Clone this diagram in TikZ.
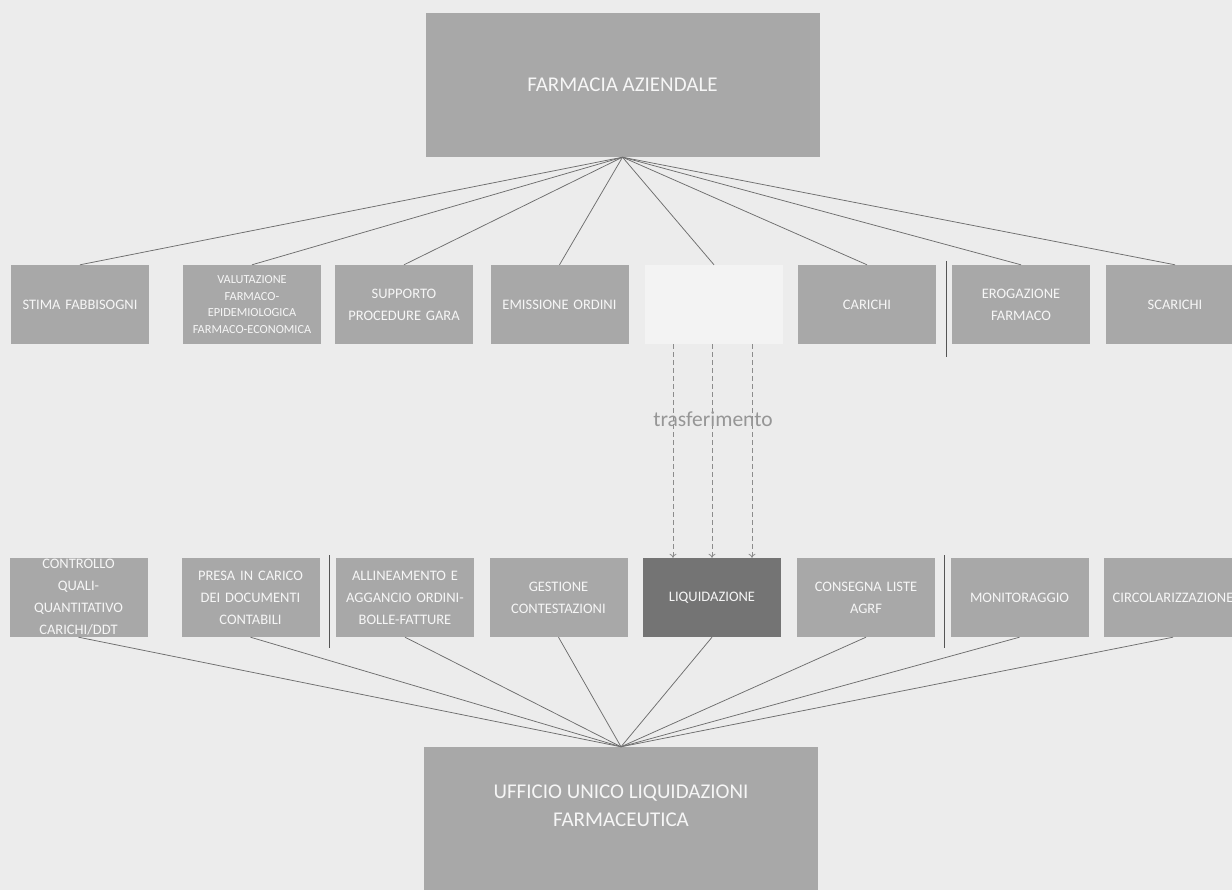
\documentclass[tikz,border=0pt]{standalone}
\usepackage{fontspec}
\setmainfont{Carlito}
\usetikzlibrary{arrows.meta}
\definecolor{bgc}{RGB}{236,236,236}
\definecolor{boxc}{RGB}{168,168,168}
\definecolor{darkc}{RGB}{116,116,116}
\definecolor{linec}{RGB}{110,110,110}
\definecolor{sepc}{RGB}{85,85,85}
\definecolor{txtc}{RGB}{246,246,246}
\definecolor{ghostc}{RGB}{243,243,243}
\definecolor{dashc}{RGB}{140,140,140}
\definecolor{lblc}{RGB}{150,150,150}
\begin{document}
\begin{tikzpicture}[x=1pt,y=-1pt,
  box/.style={rectangle, fill=boxc, text=txtc, minimum width=138, minimum height=79,
    inner xsep=2pt, inner ysep=0pt, align=center, text width=134,
    font=\fontsize{14.5}{22}\selectfont},
  smallbox/.style={box, font=\fontsize{12.3}{16.8}\selectfont},
  darkbox/.style={box, fill=darkc},
  ghostbox/.style={box, fill=ghostc},
  bigbox/.style={rectangle, fill=boxc, text=txtc, minimum width=394, minimum height=144,
    inner sep=0pt, align=center, font=\fontsize{21}{28}\selectfont},
  bigtext/.style={text=txtc, align=center, font=\fontsize{21}{28}\selectfont, inner sep=0pt},
  conn/.style={draw=linec, line width=0.75pt},
  sepline/.style={draw=sepc, line width=1pt},
  transfer/.style={draw=dashc, line width=0.8pt, dash pattern=on 5pt off 3pt,
    -{To[length=4pt,width=7pt]}},
  lbl/.style={text=lblc, font=\fontsize{21.5}{24}\selectfont, inner sep=0pt}
]
\clip (0,0) rectangle (1232,890);
\fill[bgc] (0,0) rectangle (1232,890);

% top box
\node[bigbox] (top) at (622.5,85) {FARMACIA AZIENDALE};

% row 1
\node[box]      (stima) at (80,304.5)   {STIMA FABBISOGNI};
\node[smallbox] (valu)  at (252,304.5)  {VALUTAZIONE\\FARMACO-\\EPIDEMIOLOGICA\\FARMACO-ECONOMICA};
\node[box]      (supp)  at (404,304.5)  {SUPPORTO\\PROCEDURE GARA};
\node[box]      (emis)  at (559.5,304.5){EMISSIONE ORDINI};
\node[ghostbox] (ghost) at (714,304.5)  {};
\node[box]      (cari)  at (867,304.5)  {CARICHI};
\node[box]      (erog)  at (1021,304.5) {EROGAZIONE\\FARMACO};
\node[box]      (scar)  at (1175,304.5) {SCARICHI};

% row 2
\node[box]     (cont) at (78.5,597.5)  {CONTROLLO\\QUALI-\\QUANTITATIVO\\CARICHI/DDT};
\node[box]     (pres) at (250.5,597.5) {PRESA IN CARICO\\DEI DOCUMENTI\\CONTABILI};
\node[box]     (alli) at (405,597.5)   {ALLINEAMENTO E\\AGGANCIO ORDINI-\\BOLLE-FATTURE};
\node[box]     (gest) at (558.5,597.5) {GESTIONE\\CONTESTAZIONI};
\node[darkbox] (liqu) at (712,597.5)   {LIQUIDAZIONE};
\node[box]     (cons) at (866,597.5)   {CONSEGNA LISTE\\AGRF};
\node[box]     (moni) at (1019.5,597.5){MONITORAGGIO};
\node[box]     (circ) at (1173,597.5)  {CIRCOLARIZZAZIONE};

% bottom box
\node[bigbox] (bot) at (621,819) {};
\node[bigtext] (bottxt) at (621,806) {UFFICIO UNICO LIQUIDAZIONI\\FARMACEUTICA};

% connectors top
\foreach \n in {stima,valu,supp,emis,ghost,cari,erog,scar}
  \draw[conn] (top.south) -- (\n.north);
% connectors bottom
\foreach \n in {cont,pres,alli,gest,liqu,cons,moni,circ}
  \draw[conn] (\n.south) -- (bot.north);

% separators
\coordinate (s1a) at (946,261); \coordinate (s1b) at (946,357);
\coordinate (s2a) at (329,555); \coordinate (s2b) at (329,648);
\coordinate (s3a) at (944,555); \coordinate (s3b) at (944,648);
\draw[sepline] (s1a) -- (s1b);
\draw[sepline] (s2a) -- (s2b);
\draw[sepline] (s3a) -- (s3b);

% transfer arrows
\draw[transfer] ([xshift=-41pt]ghost.south) -- ([xshift=-41pt]ghost.south |- liqu.north);
\draw[transfer] ([xshift=-2pt]ghost.south) -- ([xshift=-2pt]ghost.south |- liqu.north);
\draw[transfer] ([xshift=38pt]ghost.south) -- ([xshift=38pt]ghost.south |- liqu.north);
\node[lbl] (trasf) at (713,419) {trasferimento};
\end{tikzpicture}
\end{document}
